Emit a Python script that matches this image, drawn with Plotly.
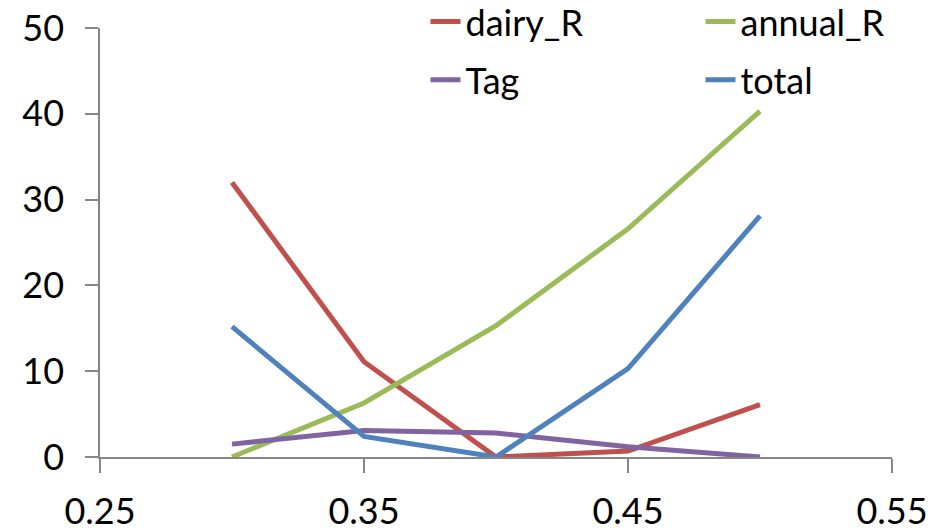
import plotly.graph_objects as go

# x positions and the four series
x_vals = [0.30, 0.35, 0.40, 0.45, 0.50]
dairy_R = [32.0, 11.1, 0.0, 0.7, 6.1]
annual_R = [0.0, 6.3, 15.3, 26.6, 40.3]
tag = [1.5, 3.1, 2.8, 1.2, 0.0]
total = [15.2, 2.4, 0.0, 10.3, 28.1]

x_ticks = [0.25, 0.35, 0.45, 0.55]
y_ticks = [0, 10, 20, 30, 40, 50]

series = [
    ("dairy_R", dairy_R, "#C0504D", "legend"),
    ("annual_R", annual_R, "#9BBB59", "legend"),
    ("Tag", tag, "#8064A2", "legend2"),
    ("total", total, "#4F81BD", "legend2"),
]

FONT = "Lato, Open Sans, Arial, sans-serif"
AXIS_COLOR = "#868686"
FS = 36

fig = go.Figure()
for name, vals, color, leg in series:
    fig.add_trace(go.Scatter(
        x=x_vals, y=vals, name=name, mode="lines",
        line=dict(color=color, width=5),
        legend=leg,
    ))

legend_common = dict(
    orientation="h",
    xanchor="left", yanchor="middle",
    x=0.411,
    font=dict(family=FONT, size=FS, color="#000000"),
    bgcolor="rgba(0,0,0,0)",
    entrywidth=230, entrywidthmode="pixels",
    itemwidth=30,
)

fig.update_layout(
    width=937, height=532,
    margin=dict(l=100, r=45, t=28, b=75, autoexpand=False),
    paper_bgcolor="white", plot_bgcolor="white",
    font=dict(family=FONT, size=FS, color="#000000"),
    showlegend=True,
    legend=dict(legend_common, y=1.015),
    legend2=dict(legend_common, y=0.879),
    xaxis=dict(
        range=[0.25, 0.55], tickvals=x_ticks,
        ticktext=[f"{v:.2f}" for v in x_ticks],
        showgrid=False, zeroline=False,
        showline=True, linecolor=AXIS_COLOR, linewidth=1.5,
        ticks="outside", ticklen=14, tickwidth=1.5, tickcolor=AXIS_COLOR,
        ticklabelstandoff=8,
        tickfont=dict(family=FONT, size=FS, color="#000000"),
    ),
    yaxis=dict(
        range=[0, 50], tickvals=y_ticks,
        showgrid=False, zeroline=False,
        showline=True, linecolor=AXIS_COLOR, linewidth=1.5,
        ticks="outside", ticklen=13, tickwidth=1.5, tickcolor=AXIS_COLOR,
        ticklabelstandoff=14,
        tickfont=dict(family=FONT, size=FS, color="#000000"),
    ),
)

fig.write_html("out.html")
